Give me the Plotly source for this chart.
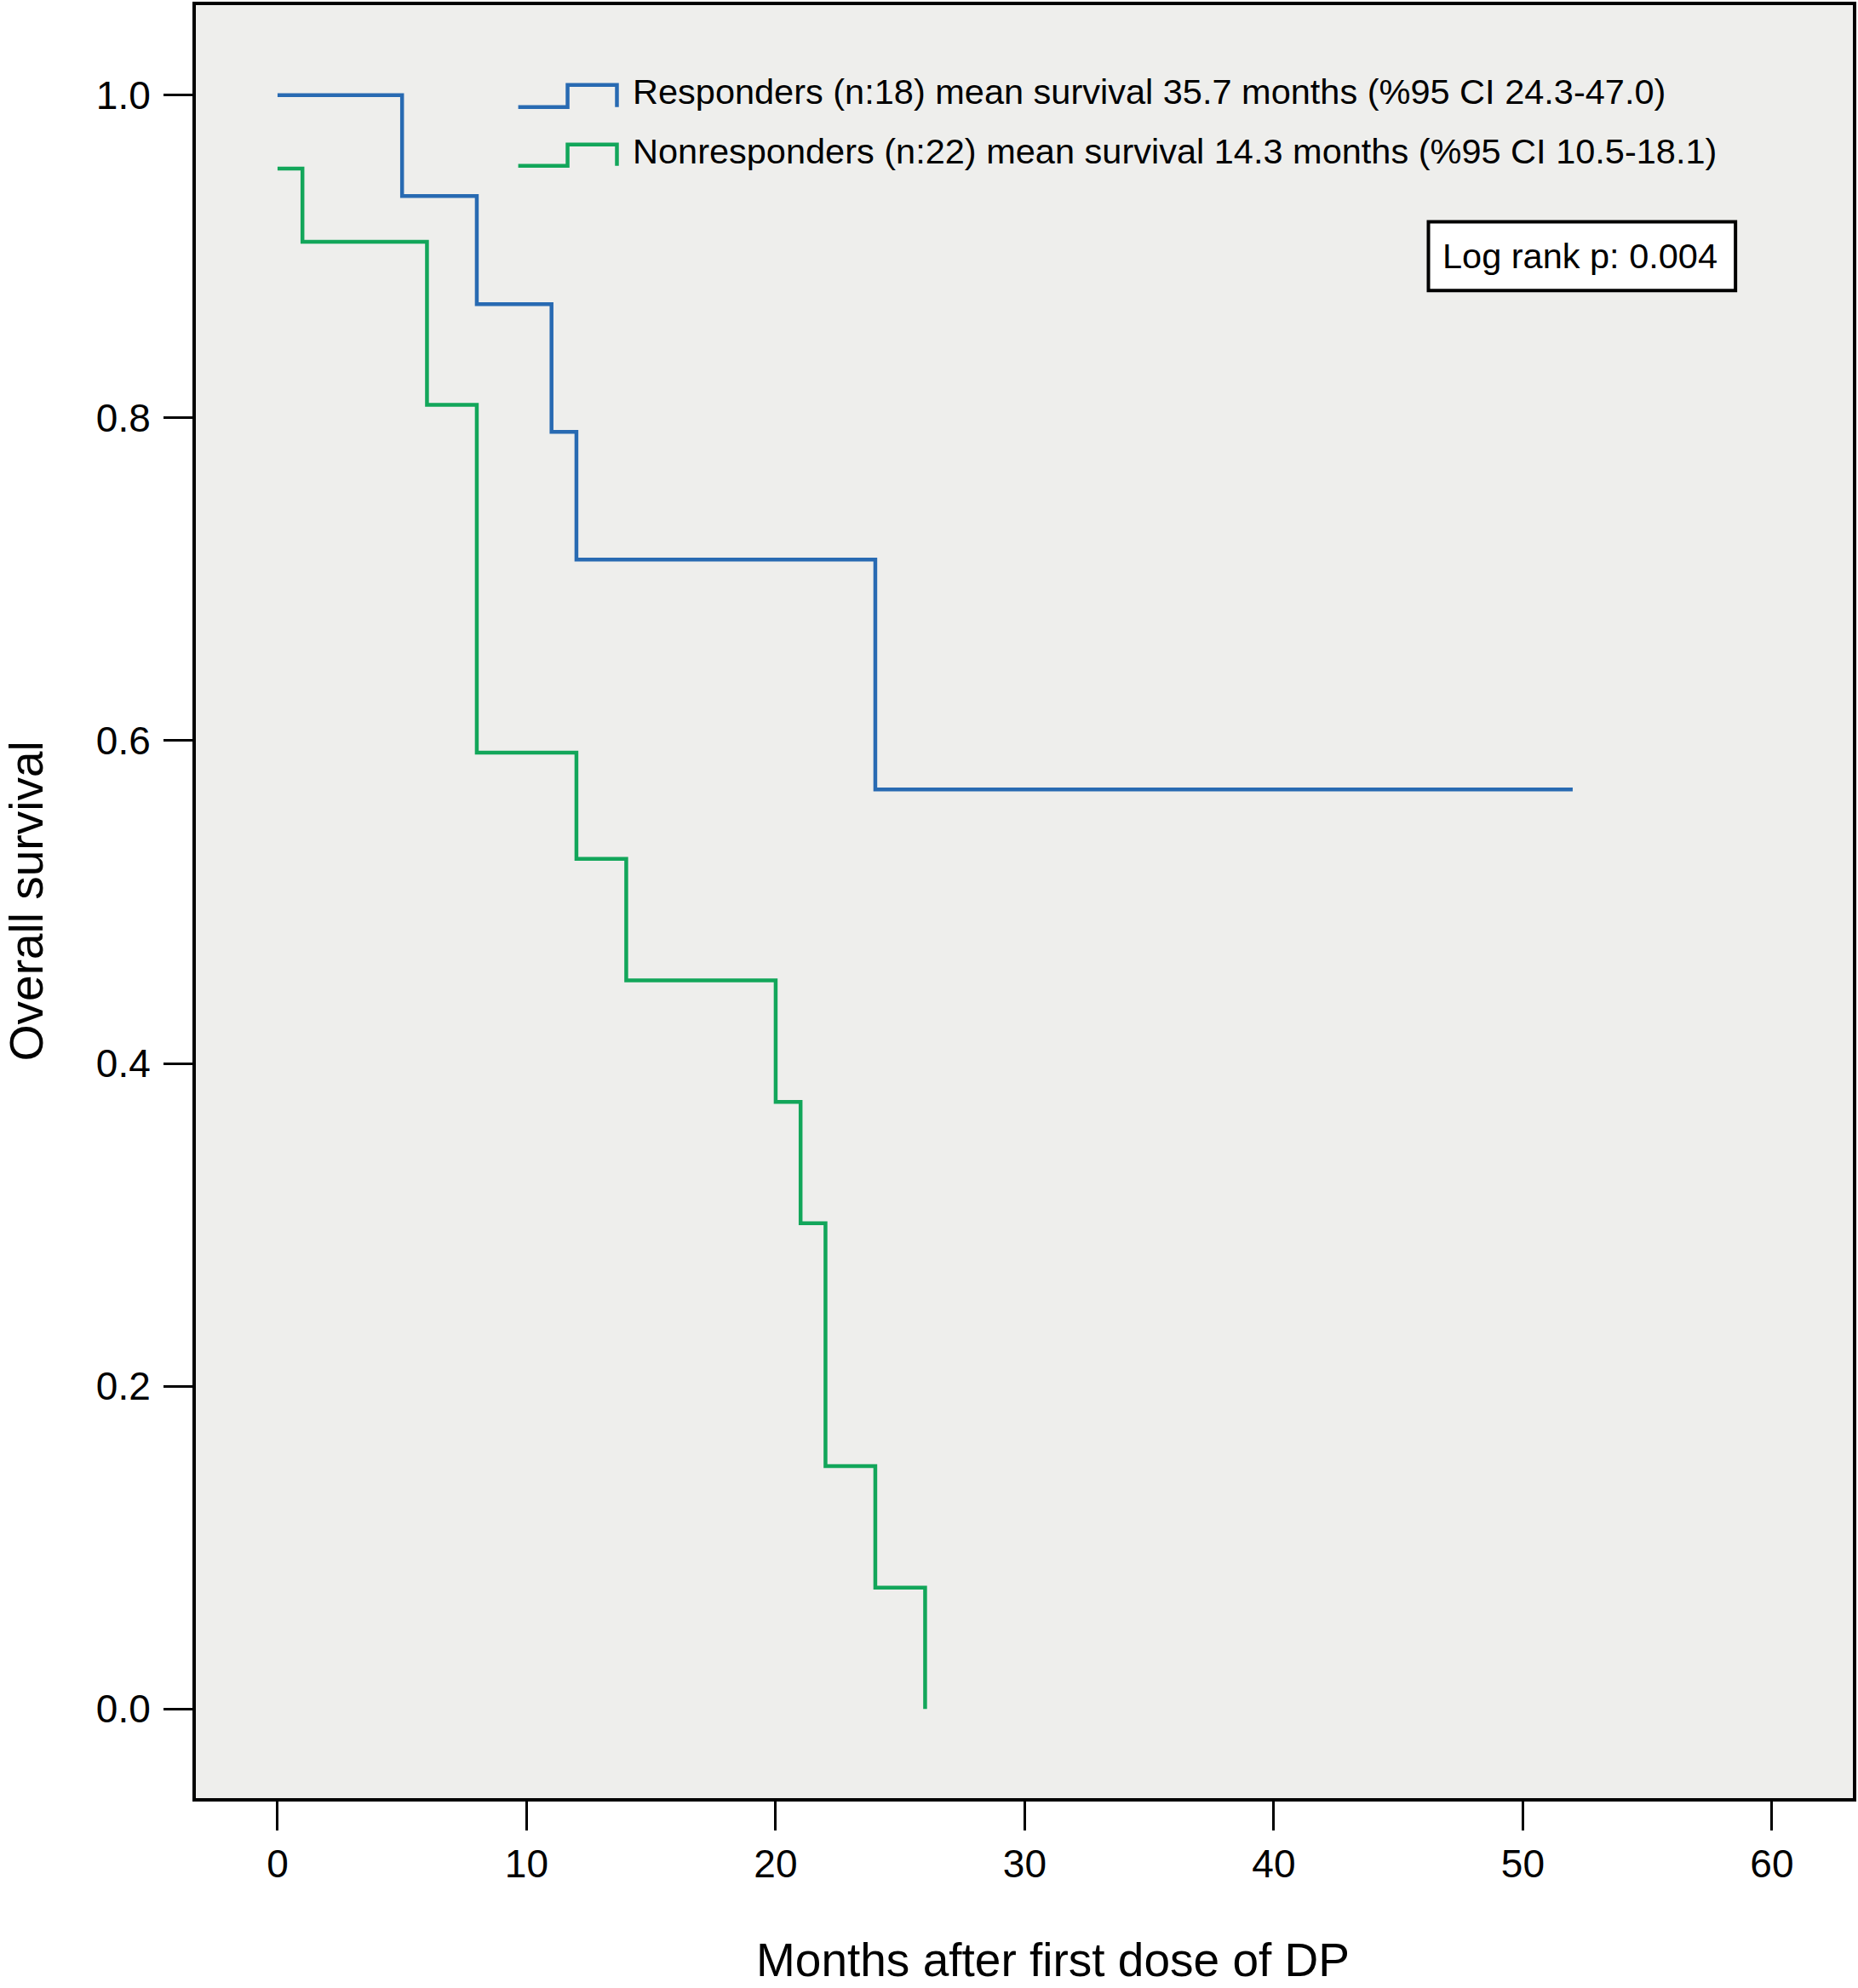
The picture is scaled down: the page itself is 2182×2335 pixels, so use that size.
import plotly.graph_objects as go

# ---- data ----
resp_months = [0, 5, 8, 11, 12, 24, 52]
resp_surv = [1.0, 0.9375, 0.8705, 0.7914, 0.7122, 0.5698, 0.5698]

nonresp_months = [0, 1, 6, 8, 12, 14, 20, 21, 22, 24, 26]
nonresp_surv = [0.9545, 0.9091, 0.8081, 0.5926, 0.5267, 0.4515, 0.3762, 0.3010, 0.1505, 0.0752, 0.0]

x_ticks = [0, 10, 20, 30, 40, 50, 60]
y_ticks = [0.0, 0.2, 0.4, 0.6, 0.8, 1.0]

resp_label = "Responders (n:18) mean survival 35.7 months (%95 CI 24.3-47.0)"
nonresp_label = "Nonresponders (n:22) mean survival 14.3 months (%95 CI 10.5-18.1)"
logrank_text = "Log rank p: 0.004"
x_title = "Months after first dose of DP"
y_title = "Overall survival"

BLUE = "rgb(40,106,178)"
GREEN = "rgb(18,166,90)"
FONT = "Liberation Sans, Arial, Helvetica, sans-serif"

W, H = 2182, 2335
L, R, T, B = 230, 4, 2, 223
PW, PH = W - L - R, H - T - B


def px(xp):
    return (xp - L) / PW


def py(yp):
    return (H - B - yp) / PH


fig = go.Figure()
fig.add_trace(go.Scatter(x=resp_months, y=resp_surv, mode="lines",
                         line=dict(color=BLUE, width=4.5, shape="hv"),
                         name=resp_label, showlegend=False))
fig.add_trace(go.Scatter(x=nonresp_months, y=nonresp_surv, mode="lines",
                         line=dict(color=GREEN, width=4.5, shape="hv"),
                         name=nonresp_label, showlegend=False))

shapes = []
annotations = []

# legend icons (step glyphs) and texts
for col, ylow, yhigh, ytxt, txt in [
    (BLUE, 122, 96, 104, resp_label),
    (GREEN, 191, 166, 174, nonresp_label),
]:
    pts = [(609, ylow), (667, ylow), (667, yhigh), (725, yhigh), (725, ylow)]
    path = "M " + " L ".join(f"{px(a):.5f},{py(b):.5f}" for a, b in pts)
    shapes.append(dict(type="path", xref="paper", yref="paper", path=path,
                       line=dict(color=col, width=4.5)))
    annotations.append(dict(xref="paper", yref="paper", x=px(742), y=py(ytxt),
                            xanchor="left", yanchor="middle", text=txt,
                            showarrow=False,
                            font=dict(family=FONT, size=41.5, color="black")))

# log rank box
shapes.append(dict(type="rect", xref="paper", yref="paper",
                   x0=px(1679), x1=px(2040), y0=py(338), y1=py(257),
                   line=dict(color="black", width=4), fillcolor="white"))
annotations.append(dict(xref="paper", yref="paper", x=px(1857), y=py(297),
                        xanchor="center", yanchor="middle", text=logrank_text,
                        showarrow=False,
                        font=dict(family=FONT, size=41.5, color="black")))

# axis titles
annotations.append(dict(xref="paper", yref="paper", x=px(1238), y=py(2302),
                        xanchor="center", yanchor="middle", text=x_title,
                        showarrow=False,
                        font=dict(family=FONT, size=55, color="black")))
annotations.append(dict(xref="paper", yref="paper", x=px(31), y=py(1056),
                        xanchor="center", yanchor="middle", text=y_title,
                        textangle=-90, showarrow=False,
                        font=dict(family=FONT, size=55, color="black")))

fig.update_layout(
    width=W, height=H,
    margin=dict(l=L, r=R, t=T, b=B, pad=0),
    paper_bgcolor="white",
    plot_bgcolor="rgb(238,238,236)",
    showlegend=False,
    shapes=shapes,
    annotations=annotations,
    font=dict(family=FONT, size=46, color="black"),
)
fig.update_xaxes(range=[-3.28, 63.25], tickmode="array", tickvals=x_ticks,
                 ticktext=[str(v) for v in x_ticks],
                 ticks="outside", ticklen=34, tickwidth=3, tickcolor="black",
                 showline=True, linewidth=4, linecolor="black", mirror=True,
                 showgrid=False, zeroline=False,
                 tickfont=dict(family=FONT, size=46, color="black"))
fig.update_yaxes(range=[-0.0553, 1.0558], tickmode="array", tickvals=y_ticks,
                 ticktext=[f"{v:.1f}" for v in y_ticks],
                 ticks="outside", ticklen=34, tickwidth=3, tickcolor="black",
                 ticklabelstandoff=6,
                 showline=True, linewidth=4, linecolor="black", mirror=True,
                 showgrid=False, zeroline=False,
                 tickfont=dict(family=FONT, size=46, color="black"))

fig.write_html("out.html",
               config={"displayModeBar": False},
               post_script="document.body.style.margin='0';document.body.style.overflow='hidden';")
